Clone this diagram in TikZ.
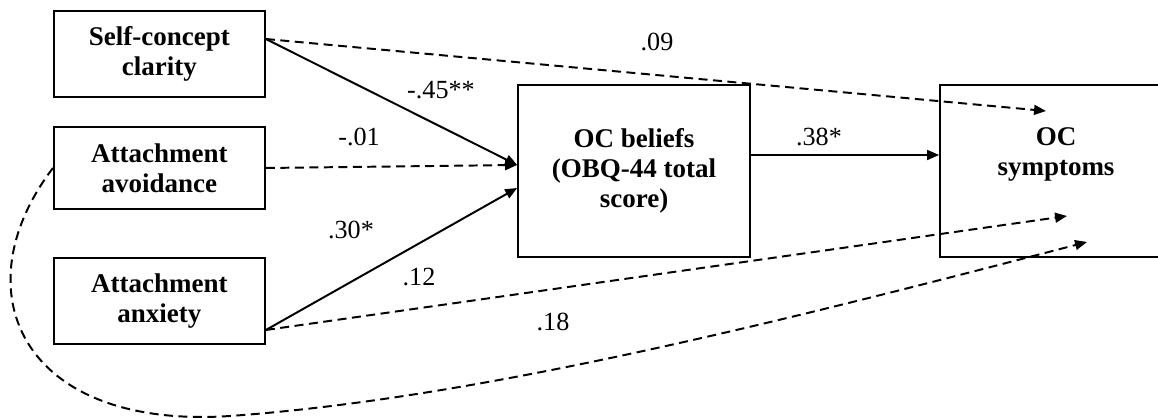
\documentclass[tikz,border=0pt]{standalone}
\usepackage{fontspec}
\setmainfont{Liberation Serif}
\usetikzlibrary{arrows.meta,calc}

\begin{document}
\begin{tikzpicture}[x=0.025cm,y=-0.025cm,
    varbox/.style={draw,line width=1.2pt,align=center,inner sep=0pt,
      font=\fontsize{19.2}{21.3}\selectfont\bfseries},
    sig/.style={line width=1.4pt,-{Triangle[length=8.5pt,width=7pt]}},
    nonsig/.style={sig,dash pattern=on 6.4pt off 3.9pt},
    coef/.style={font=\fontsize{18.6}{21}\selectfont}]
        \clip (0,0) rectangle (1158,418);
        % variables
        \node[varbox,minimum width=5.28cm,minimum height=2.15cm] (scc) at (159.4,53.7) {Self-concept\\clarity};
        \node[varbox,minimum width=5.28cm,minimum height=2.05cm] (avoid) at (159.4,168) {Attachment\\avoidance};
        \node[varbox,minimum width=5.28cm,minimum height=2.15cm] (anx) at (159.4,301) {Attachment\\anxiety};
        \node[varbox,minimum width=5.8cm,minimum height=4.3cm] (beliefs) at (634,171) {OC beliefs\\(OBQ-44 total\\score)};
        \node[varbox,minimum width=5.8cm,minimum height=4.3cm] (symptoms) at (1056,171) {OC\\symptoms\\\strut};
        % ends of the paths
        \coordinate (scc-out) at ($(scc.east)+(0,-14.7)$);
        \coordinate (anx-out) at ($(anx.east)+(0,29)$);
        \coordinate (bel-in1) at ($(beliefs.west)+(0,-6)$);
        \coordinate (bel-in2) at ($(beliefs.west)+(0,17)$);
        \coordinate (t09) at ($(symptoms.center)+(-10,-60)$);
        \coordinate (t12) at ($(symptoms.center)+(11,45)$);
        \coordinate (t18) at ($(symptoms.center)+(31,71)$);
        % paths
        \draw [sig] (scc-out) -- (bel-in1);
        \draw [nonsig] (scc-out) -- (t09);
        \draw [nonsig] (avoid.east) -- (bel-in1);
        \draw [sig] (anx-out) -- (bel-in2);
        \draw [nonsig] (anx-out) -- (t12);
        \draw [sig] ($(beliefs.east)+(0,-16)$) -- ($(symptoms.west)+(0,-16)$);
        \draw [nonsig] (avoid.west) .. controls (-40,290) and (20,430) .. (230,416)
              .. controls (480,398) and (780,322) .. (t18);
        % coefficients
        \draw[coef] (657,42) node (c09) {.09};
        \draw[coef] (441,90) node (c45) {-.45**};
        \draw[coef] (359,137) node (c01) {-.01};
        \draw[coef] (351,230) node (c30) {.30*};
        \draw[coef] (419,277) node (c12) {.12};
        \draw[coef] (553,322) node (c18) {.18};
        \draw[coef] (819,137) node (c38) {.38*};
    \end{tikzpicture}
\end{document}
